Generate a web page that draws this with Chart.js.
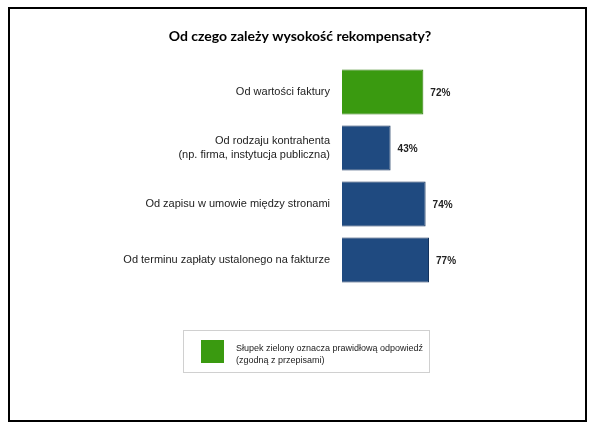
<!DOCTYPE html>
<html>
<head>
<meta charset="utf-8">
<script src="https://cdn.jsdelivr.net/npm/chart.js@4"></script>
<style>
  body { margin: 0; background: #fff; }
  #wrap { position: relative; width: 593px; height: 427px; }
  #frame {
    position: absolute; left: 8px; top: 7px; width: 575px; height: 411px;
    border: 2px solid #000;
  }
  #legend {
    position: absolute; left: 183px; top: 330px; width: 247px; height: 43px;
    border: 1px solid #d0d0d0; box-sizing: border-box;
    font-family: "Liberation Sans", Arial, sans-serif; font-size: 9px; color: #222;
  }
  #legend .sw {
    position: absolute; left: 17px; top: 9px; width: 23px; height: 23px; background: #3a9a10;
  }
  #legend .tx { position: absolute; left: 52px; top: 11px; line-height: 12px; }
</style>
</head>
<body>
<div id="wrap">
  <canvas id="chart" width="593" height="427"></canvas>
  <div id="frame"></div>
  <div id="legend">
    <div class="sw"></div>
    <div class="tx">Słupek zielony oznacza prawidłową odpowiedź<br>(zgodną z przepisami)</div>
  </div>
</div>
<script>
// data
var title = 'Od czego zależy wysokość rekompensaty?';
var categories = [
  'Od wartości faktury',
  ['Od rodzaju kontrahenta', '(np. firma, instytucja publiczna)'],
  'Od zapisu w umowie między stronami',
  'Od terminu zapłaty ustalonego na fakturze'
];
var values = [72, 43, 74, 77];
var correct = [true, false, false, false];

var green = '#3a9a10';
var blue = '#1f4a80';

// percent labels at the end of the bars + the page title
var extras = {
  id: 'extras',
  afterDatasetsDraw: function (chart) {
    var ctx = chart.ctx;
    var meta = chart.getDatasetMeta(0);
    ctx.save();
    ctx.font = 'bold 10px "Liberation Sans", Arial, sans-serif';
    ctx.fillStyle = '#222';
    ctx.textAlign = 'left';
    ctx.textBaseline = 'middle';
    meta.data.forEach(function (bar, i) {
      ctx.fillText(values[i] + '%', bar.x + 7, bar.y + 1);
    });

    ctx.font = 'bold 14px Lato, "Liberation Sans", sans-serif';
    ctx.fillStyle = '#000';
    ctx.textAlign = 'center';
    ctx.fillText(title, 300, 36);
    ctx.restore();
  }
};

new Chart(document.getElementById('chart'), {
  type: 'bar',
  data: {
    labels: categories,
    datasets: [{
      data: values,
      backgroundColor: correct.map(function (c) { return c ? green : blue; }),
      borderColor: correct.map(function (c) { return c ? '#2f7e0b' : '#14335c'; }),
      borderWidth: 1,
      categoryPercentage: 0.8,
      barPercentage: 1
    }]
  },
  options: {
    indexAxis: 'y',
    responsive: false,
    animation: false,
    layout: { padding: { left: 0, right: 138, top: 64, bottom: 139 } },
    plugins: {
      legend: { display: false },
      tooltip: { enabled: false },
      title: { display: false }
    },
    scales: {
      x: { display: false, min: 0, max: 100 },
      y: {
        grid: { display: false, drawTicks: false },
        border: { display: false },
        ticks: {
          padding: 12,
          color: '#222',
          font: { family: '"Liberation Sans", Arial, sans-serif', size: 11, lineHeight: 1.3 }
        },
        afterFit: function (scale) { scale.width = 342; }
      }
    }
  },
  plugins: [extras]
});
</script>
</body>
</html>
